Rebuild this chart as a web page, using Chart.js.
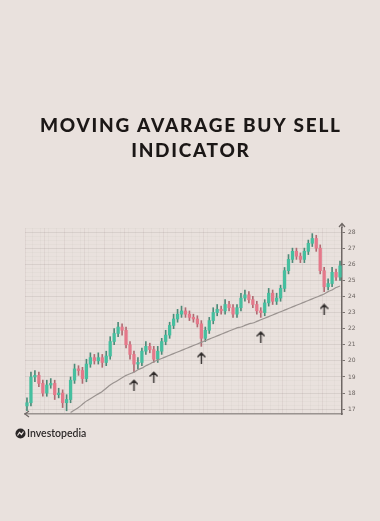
<!DOCTYPE html>
<html>
<head>
<meta charset="utf-8">
<script src="https://cdn.jsdelivr.net/npm/chart.js@4.4.1/dist/chart.umd.min.js"></script>
<style>
  html, body { margin: 0; padding: 0; background: #e9e1dd; }
  #wrap { width: 380px; height: 521px; position: relative; }
</style>
</head>
<body>
<div id="wrap"><canvas id="c" width="380" height="521"></canvas></div>
<script>
// ---- data ----
const titleLines = ['MOVING AVARAGE BUY SELL', 'INDICATOR'];
const brand = 'Investopedia';

const opens = [17.2,17.4,19.0,19.1,18.6,18.0,18.5,18.6,17.9,18.0,
  17.4,17.6,18.8,19.5,19.4,18.9,19.8,20.2,20.0,20.2,
  19.9,20.3,21.2,21.7,22.1,21.9,21.0,20.4,19.8,19.9,
  20.6,20.9,20.7,20.1,20.6,21.2,21.6,22.2,22.6,22.9,
  23.1,22.9,22.7,22.6,22.3,21.4,21.9,22.5,23.0,23.2,
  23.1,23.5,23.3,22.9,23.3,23.9,24.1,23.8,23.5,23.1,
  23.0,23.6,24.2,23.7,23.9,24.5,25.6,26.3,26.8,26.5,
  26.3,26.8,27.3,27.6,27.0,25.6,24.6,24.8,25.5,25.2];
const closes = [17.4,19.0,19.1,18.6,18.0,18.5,18.6,17.9,18.0,17.4,
  17.6,18.8,19.5,19.4,18.9,19.8,20.2,20.0,20.2,19.9,
  20.3,21.2,21.7,22.1,21.9,21.0,20.4,19.8,19.9,20.6,
  20.9,20.7,20.1,20.6,21.2,21.6,22.2,22.6,22.9,23.1,
  22.9,22.7,22.6,22.3,21.4,21.9,22.5,23.0,23.2,23.1,
  23.5,23.3,22.9,23.3,23.9,24.1,23.8,23.5,23.1,23.0,
  23.6,24.2,23.7,23.9,24.5,25.6,26.3,26.8,26.5,26.3,
  26.8,27.3,27.6,27.0,25.6,24.6,24.8,25.5,25.2,25.9];
const highs = [17.7,19.3,19.4,19.3,18.8,18.8,18.9,18.8,18.3,18.2,
  17.9,19.0,19.8,19.7,19.6,20.1,20.5,20.4,20.5,20.4,
  20.6,21.5,22.0,22.4,22.3,22.1,21.2,20.6,20.2,20.8,
  21.2,21.1,20.9,20.9,21.4,21.9,22.4,22.9,23.2,23.4,
  23.3,23.1,22.9,22.8,22.5,22.1,22.7,23.3,23.5,23.4,
  23.8,23.7,23.5,23.5,24.2,24.4,24.3,24.0,23.7,23.3,
  23.8,24.5,24.4,24.2,24.7,25.8,26.6,27.0,27.0,26.7,
  27.0,27.5,27.9,27.8,27.2,25.8,25.1,25.8,25.7,26.2];
const lows = [16.9,17.2,18.7,18.4,17.8,17.8,18.3,17.6,17.7,17.1,
  16.9,17.4,18.6,19.1,18.6,18.7,19.6,19.8,19.8,19.6,
  19.7,20.1,21.0,21.5,21.6,20.8,20.1,19.3,19.5,19.7,
  20.4,20.5,19.9,19.9,20.4,21.0,21.4,22.0,22.4,22.7,
  22.7,22.5,22.4,22.1,20.9,21.2,21.7,22.3,22.8,22.9,
  22.9,23.1,22.7,22.7,23.1,23.7,23.6,23.3,22.9,22.7,
  22.8,23.4,23.5,23.5,23.7,24.3,25.4,26.1,26.3,26.1,
  26.1,26.6,27.1,26.8,25.4,24.3,24.4,24.6,25.0,25.0];
const movingAvg = [null,null,null,null,null,null,null,null,null,null,
  null,16.8,16.95,17.1,17.3,17.5,17.65,17.8,17.95,18.1,
  18.3,18.5,18.65,18.8,18.95,19.1,19.2,19.3,19.45,19.55,
  19.7,19.8,19.95,20.05,20.15,20.25,20.35,20.45,20.55,20.65,
  20.75,20.85,20.95,21.05,21.15,21.25,21.35,21.45,21.55,21.65,
  21.75,21.85,21.95,22.05,22.1,22.2,22.3,22.35,22.45,22.55,
  22.65,22.75,22.85,22.95,23.05,23.15,23.25,23.35,23.45,23.55,
  23.65,23.75,23.85,23.95,24.05,24.15,24.3,24.4,24.55,24.65];
// buy-signal arrows: candle index and price level of the arrow
const arrowIdx = [27, 32, 44, 59, 75];
const arrowVal = [18.5, 19.0, 20.2, 21.5, 23.2];
const yTicks = [17,18,19,20,21,22,23,24,25,26,27,28];

// ---- build ----
const labels = closes.map((_, i) => 'd' + (i + 1));
const upCol = '#45bf9f', dnCol = '#e5788a';
const bodyCols = closes.map((c, i) => c >= opens[i] ? upCol : dnCol);
const wickCols = closes.map((c, i) => c >= opens[i] ? '#4d8a78' : '#b06a72');
const arrowData = labels.map(() => null);
arrowIdx.forEach((k, j) => { arrowData[k] = arrowVal[j]; });

// arrow glyph used as point style
const arrowImg = document.createElement('canvas');
arrowImg.width = 9; arrowImg.height = 12;
(function () {
  const g = arrowImg.getContext('2d');
  g.strokeStyle = '#2f2b2a'; g.lineWidth = 1.4; g.lineCap = 'round';
  g.beginPath();
  g.moveTo(4.5, 11.5); g.lineTo(4.5, 1.5);
  g.moveTo(1, 5); g.lineTo(4.5, 1.2); g.lineTo(8, 5);
  g.stroke();
})();

const decor = {
  id: 'decor',
  beforeDraw(chart) {
    const ctx = chart.ctx;
    ctx.save();
    ctx.fillStyle = '#e9e1dd';
    ctx.fillRect(0, 0, chart.width, chart.height);
    ctx.restore();
  },
  afterDraw(chart) {
    const ctx = chart.ctx, a = chart.chartArea;
    ctx.save();
    // title
    ctx.fillStyle = '#1b1716';
    ctx.font = '900 19px Lato';
    ctx.textAlign = 'center';
    ctx.textBaseline = 'middle';
    const w0 = ctx.measureText(titleLines[0]).width;
    const ls = (300 - w0) / (titleLines[0].length - 1);
    try { ctx.letterSpacing = ls.toFixed(2) + 'px'; } catch (e) {}
    ctx.fillText(titleLines[0], 190 + ls / 2, 126);
    ctx.fillText(titleLines[1], 190 + ls / 2, 151);
    try { ctx.letterSpacing = '0px'; } catch (e) {}
    // axis arrow heads
    ctx.strokeStyle = '#6e6764'; ctx.lineWidth = 1.2;
    ctx.beginPath();
    ctx.moveTo(a.right, a.top); ctx.lineTo(a.right, a.top - 4);
    ctx.moveTo(a.right - 3, a.top - 1); ctx.lineTo(a.right, a.top - 4.5); ctx.lineTo(a.right + 3, a.top - 1);
    ctx.moveTo(a.left + 4, a.bottom - 3); ctx.lineTo(a.left, a.bottom); ctx.lineTo(a.left + 4, a.bottom + 3);
    ctx.stroke();
    // brand logo
    ctx.fillStyle = '#2a2626';
    ctx.beginPath(); ctx.arc(20.5, 433.5, 5, 0, Math.PI * 2); ctx.fill();
    ctx.strokeStyle = '#e9e1dd'; ctx.lineWidth = 1.2;
    ctx.beginPath(); ctx.moveTo(17.5, 435.5); ctx.lineTo(19.5, 432.5); ctx.lineTo(21.5, 434.5); ctx.lineTo(23.5, 431.5); ctx.stroke();
    ctx.fillStyle = '#2d2929';
    ctx.font = '600 10.5px Lato';
    ctx.textAlign = 'left';
    ctx.fillText(brand, 27, 434);
    ctx.restore();
  }
};

new Chart(document.getElementById('c'), {
  type: 'bar',
  data: {
    labels: labels,
    datasets: [
      { type: 'line', data: arrowData, showLine: false, pointStyle: arrowImg,
        pointRadius: 5, yAxisID: 'y', order: 0 },
      { type: 'line', data: movingAvg, borderColor: '#9a9390', borderWidth: 1.2,
        pointRadius: 0, tension: 0.3, yAxisID: 'y', order: 1 },
      { data: opens.map((o, i) => [o, closes[i]]), backgroundColor: bodyCols,
        barThickness: 2.6, grouped: false, yAxisID: 'y', order: 2 },
      { data: lows.map((l, i) => [l, highs[i]]), backgroundColor: wickCols,
        barThickness: 1, grouped: false, yAxisID: 'y', order: 3 }
    ]
  },
  options: {
    responsive: false,
    animation: false,
    layout: { padding: { left: 25, right: 0, top: 228, bottom: 107 } },
    plugins: { legend: { display: false }, tooltip: { enabled: false }, title: { display: false } },
    scales: {
      x: {
        ticks: { display: false },
        grid: {
          drawTicks: false,
          color: (c) => (c.index % 5 === 0 ? 'rgba(120,100,95,0.09)' : (c.index % 2 === 0 ? 'rgba(120,100,95,0.04)' : 'rgba(0,0,0,0)')),
          lineWidth: 1
        },
        border: { display: true, color: '#9a9390', width: 1.5 },
        afterFit: (s) => { s.height = 0; }
      },
      yMinor: {
        position: 'left',
        min: 16.7, max: 28.25,
        ticks: { display: false, stepSize: 0.25 },
        grid: { drawTicks: false, color: 'rgba(120,100,95,0.035)' },
        border: { display: false },
        afterFit: (s) => { s.width = 0; }
      },
      y: {
        position: 'right',
        min: 16.7, max: 28.25,
        afterBuildTicks: (s) => { s.ticks = yTicks.map(v => ({ value: v })); },
        ticks: { color: '#6b6461', font: { family: 'DejaVu Sans', size: 6 }, padding: 3 },
        grid: { color: 'rgba(120,100,95,0.1)', tickColor: '#7a7370', tickLength: 3 },
        border: { display: true, color: '#6e6764', width: 1.5 },
        afterFit: (s) => { s.width = 38; }
      }
    }
  },
  plugins: [decor]
});
</script>
</body>
</html>
